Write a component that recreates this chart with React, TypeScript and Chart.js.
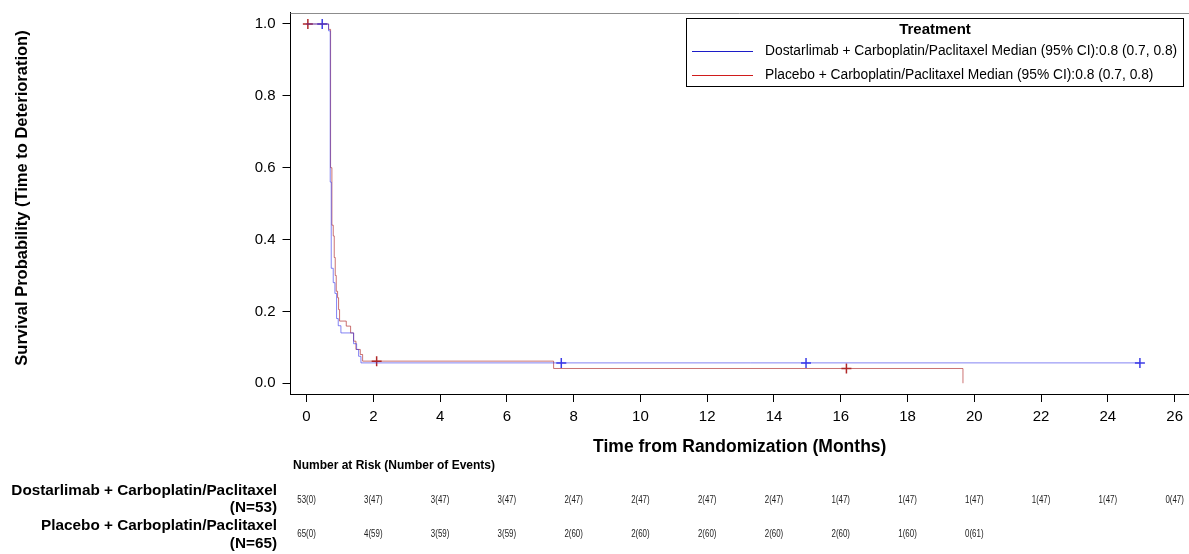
import React, { useEffect, useRef } from 'react';
import { Chart, registerables } from 'chart.js';

Chart.register(...registerables);

// ---- Data ----
const seriesNames = ['Dostarlimab + Carboplatin/Paclitaxel', 'Placebo + Carboplatin/Paclitaxel'];
const medianLabels = ['Median (95% CI):0.8 (0.7, 0.8)', 'Median (95% CI):0.8 (0.7, 0.8)'];
const groupN = ['(N=53)', '(N=65)'];

const dostTimes = [0, 0.66, 0.71, 0.74, 0.8, 0.85, 0.9, 0.95, 1.03, 1.41, 1.5, 1.56, 1.63, 24.96];
const dostSurv = [1.0, 0.981, 0.56, 0.32, 0.28, 0.25, 0.18, 0.16, 0.14, 0.11, 0.094, 0.075, 0.0566, 0.0566];
const dostCensorTimes = [0.47, 7.63, 14.96, 24.96];
const dostCensorSurv = [1.0, 0.0566, 0.0566, 0.0566];

const placTimes = [0, 0.66, 0.72, 0.76, 0.8, 0.83, 0.86, 0.89, 0.93, 0.96, 0.99, 1.19, 1.32, 1.41, 1.48, 1.61, 1.68, 7.4, 19.66];
const placSurv = [1.0, 0.985, 0.6, 0.44, 0.41, 0.35, 0.3, 0.256, 0.238, 0.205, 0.173, 0.159, 0.14, 0.117, 0.094, 0.08, 0.0615, 0.041, 0];
const placCensorTimes = [0.04, 2.1, 16.17];
const placCensorSurv = [1.0, 0.0615, 0.041];

const xTicks = [0, 2, 4, 6, 8, 10, 12, 14, 16, 18, 20, 22, 24, 26];
const yTicks = [0, 0.2, 0.4, 0.6, 0.8, 1.0];

const riskTimes = [0, 2, 4, 6, 8, 10, 12, 14, 16, 18, 20, 22, 24, 26];
const dostRisk = ['53(0)', '3(47)', '3(47)', '3(47)', '2(47)', '2(47)', '2(47)', '2(47)', '1(47)', '1(47)', '1(47)', '1(47)', '1(47)', '0(47)'];
const placRisk = ['65(0)', '4(59)', '3(59)', '3(59)', '2(60)', '2(60)', '2(60)', '2(60)', '2(60)', '1(60)', '0(61)'];

const xTitle = 'Time from Randomization (Months)';
const yTitle = 'Survival Probability (Time to Deterioration)';
const legendTitle = 'Treatment';
const riskHeader = 'Number at Risk (Number of Events)';

const FONT = '"Liberation Sans", Arial, Helvetica, sans-serif';
const lineColors = ['rgba(50,50,235,0.6)', 'rgba(175,40,40,0.65)'];
const legendColors = ['#1c1cc8', '#d01c1c'];
const censorColors = ['#3c3ce6', '#b02828'];

const pts = (xs: number[], ys: number[]) => xs.map((x, i) => ({ x, y: ys[i] }));

const extrasPlugin = {
  id: 'extras',
  afterDraw(chart: any) {
    const ctx = chart.ctx as CanvasRenderingContext2D;
    const { left, right, top } = chart.chartArea;
    const xs = chart.scales.x;
    ctx.save();
    // top frame line
    ctx.strokeStyle = '#8c8c8c';
    ctx.lineWidth = 1;
    ctx.beginPath();
    ctx.moveTo(left, Math.round(top) + 0.5);
    ctx.lineTo(right, Math.round(top) + 0.5);
    ctx.stroke();

    // legend box
    const bx = 686.5, by = 18.5, bw = 497, bh = 68;
    ctx.fillStyle = '#ffffff';
    ctx.fillRect(bx, by, bw, bh);
    ctx.strokeStyle = '#000000';
    ctx.strokeRect(bx, by, bw, bh);
    ctx.fillStyle = '#000';
    ctx.textBaseline = 'middle';
    ctx.textAlign = 'center';
    ctx.font = `bold 15px ${FONT}`;
    ctx.fillText(legendTitle, bx + bw / 2, 30);
    ctx.textAlign = 'left';
    ctx.font = `13.8px ${FONT}`;
    const rowsY = [51.5, 75.5];
    for (let i = 0; i < 2; i++) {
      ctx.strokeStyle = legendColors[i];
      ctx.lineWidth = 1;
      ctx.beginPath();
      ctx.moveTo(692, rowsY[i]);
      ctx.lineTo(753, rowsY[i]);
      ctx.stroke();
      ctx.fillStyle = '#000';
      ctx.fillText(`${seriesNames[i]} ${medianLabels[i]}`, 765, rowsY[i]);
    }

    // y title
    ctx.save();
    ctx.translate(22, 198);
    ctx.rotate(-Math.PI / 2);
    ctx.textAlign = 'center';
    ctx.font = `bold 16.5px ${FONT}`;
    ctx.fillText(yTitle, 0, 0);
    ctx.restore();

    // x title
    ctx.textAlign = 'center';
    ctx.font = `bold 17.5px ${FONT}`;
    ctx.fillText(xTitle, (left + right) / 2, 447);

    // risk table
    ctx.textAlign = 'left';
    ctx.font = `bold 12px ${FONT}`;
    ctx.fillText(riskHeader, 293, 466);
    ctx.textAlign = 'right';
    ctx.font = `bold 15.3px ${FONT}`;
    ctx.fillText(seriesNames[0], 277, 491);
    ctx.fillText(groupN[0], 277, 508);
    ctx.fillText(seriesNames[1], 277, 526);
    ctx.fillText(groupN[1], 277, 544);
    ctx.textAlign = 'center';
    ctx.font = `11px ${FONT}`;
    ctx.fillStyle = '#222';
    const drawRisk = (vals: string[], y: number) => {
      vals.forEach((v, i) => {
        ctx.save();
        ctx.translate(xs.getPixelForValue(riskTimes[i]), y);
        ctx.scale(0.72, 1);
        ctx.fillText(v, 0, 0);
        ctx.restore();
      });
    };
    drawRisk(dostRisk, 500);
    drawRisk(placRisk, 534);
    ctx.restore();
  },
};

export default function App() {
  const ref = useRef<HTMLCanvasElement | null>(null);
  useEffect(() => {
    if (!ref.current) return;
    const chart = new Chart(ref.current, {
      type: 'line',
      data: {
        datasets: [
          {
            label: seriesNames[0],
            data: pts(dostTimes, dostSurv),
            borderColor: lineColors[0],
            borderWidth: 1,
            stepped: 'before',
            pointRadius: 0,
            fill: false,
          },
          {
            label: seriesNames[1],
            data: pts(placTimes, placSurv),
            borderColor: lineColors[1],
            borderWidth: 1,
            stepped: 'before',
            pointRadius: 0,
            fill: false,
          },
          {
            label: 'censor0',
            data: pts(dostCensorTimes, dostCensorSurv),
            showLine: false,
            pointStyle: 'cross',
            pointRadius: 5,
            pointBorderWidth: 1.5,
            borderColor: censorColors[0],
            pointBorderColor: censorColors[0],
          },
          {
            label: 'censor1',
            data: pts(placCensorTimes, placCensorSurv),
            showLine: false,
            pointStyle: 'cross',
            pointRadius: 5,
            pointBorderWidth: 1.5,
            borderColor: censorColors[1],
            pointBorderColor: censorColors[1],
          },
        ],
      },
      options: {
        responsive: false,
        animation: false,
        devicePixelRatio: 1,
        layout: { autoPadding: false, padding: { top: 12.5, left: 0, right: 0, bottom: 0 } },
        plugins: { legend: { display: false }, tooltip: { enabled: false } },
        scales: {
          x: {
            type: 'linear',
            min: -0.48,
            max: 26.43,
            afterBuildTicks: (s: any) => { s.ticks = xTicks.map((v) => ({ value: v })); },
            afterFit: (s: any) => { s.height = 160; s.paddingLeft = 0; s.paddingRight = 0; },
            grid: { drawOnChartArea: false, drawTicks: true, tickLength: 8, tickColor: '#000' },
            border: { color: '#000', width: 1 },
            ticks: { color: '#000', font: { family: FONT, size: 15 }, padding: 6, maxRotation: 0, autoSkip: false, callback: (v: any) => String(v) },
          },
          y: {
            type: 'linear',
            min: -0.03,
            max: 1.032,
            afterBuildTicks: (s: any) => { s.ticks = yTicks.map((v) => ({ value: v })); },
            afterFit: (s: any) => { s.width = 290.5; s.paddingTop = 0; s.paddingBottom = 0; },
            grid: { drawOnChartArea: false, drawTicks: true, tickLength: 8, tickColor: '#000' },
            border: { color: '#000', width: 1 },
            ticks: { color: '#000', font: { family: FONT, size: 15 }, padding: 7, autoSkip: false, callback: (v: any) => Number(v).toFixed(1) },
          },
        },
      },
      plugins: [extrasPlugin],
    });
    return () => chart.destroy();
  }, []);
  return (
    <div style={{ position: 'fixed', left: 0, top: 0, width: 1189, height: 554, background: '#fff' }}>
      <canvas ref={ref} width={1189} height={554} style={{ display: 'block', width: 1189, height: 554 }} />
    </div>
  );
}
